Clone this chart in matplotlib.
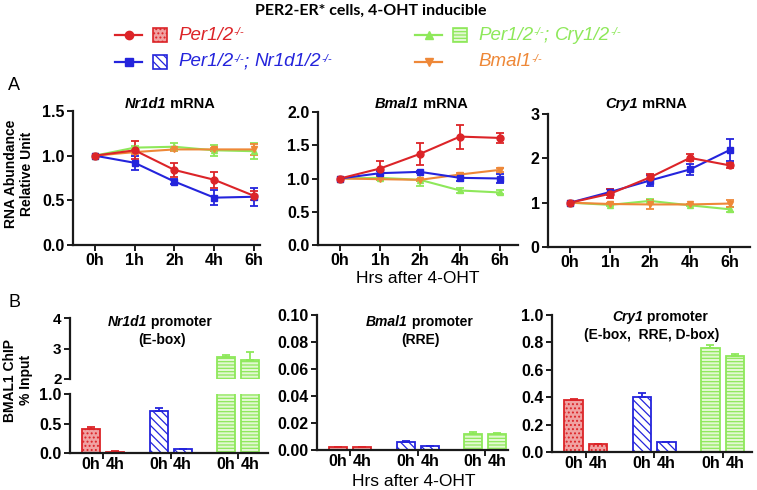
import matplotlib

matplotlib.use("Agg")
import matplotlib.pyplot as plt
import numpy as np
from matplotlib.patches import Rectangle
from matplotlib.ticker import FormatStrFormatter

plt.rcParams["font.family"] = ["Liberation Sans", "DejaVu Sans"]
plt.rcParams["font.weight"] = "bold"
plt.rcParams["hatch.linewidth"] = 0.9

W, H = 757, 490

# ---- data -------------------------------------------------------------
TIMES = ["0h", "1h", "2h", "4h", "6h"]
GENOTYPES = ["per", "per_nr1d1", "per_cry", "bmal1"]

# panel A: RNA abundance (relative unit), mean and SEM
NR1D1_MRNA = {
    "per": [1.0, 1.06, 0.84, 0.73, 0.55],
    "per_nr1d1": [1.0, 0.92, 0.71, 0.53, 0.54],
    "per_cry": [1.0, 1.09, 1.10, 1.06, 1.05],
    "bmal1": [1.0, 1.04, 1.07, 1.07, 1.07],
}
NR1D1_MRNA_ERR = {
    "per": [0, 0.10, 0.08, 0.09, 0.05],
    "per_nr1d1": [0, 0.08, 0.025, 0.085, 0.10],
    "per_cry": [0, 0.02, 0.04, 0.06, 0.09],
    "bmal1": [0, 0.02, 0.02, 0.02, 0.06],
}
BMAL1_MRNA = {
    "per": [1.0, 1.15, 1.37, 1.63, 1.61],
    "per_nr1d1": [1.0, 1.08, 1.10, 1.01, 1.00],
    "per_cry": [1.0, 1.01, 0.98, 0.82, 0.79],
    "bmal1": [1.0, 0.99, 0.98, 1.06, 1.13],
}
BMAL1_MRNA_ERR = {
    "per": [0, 0.12, 0.17, 0.18, 0.08],
    "per_nr1d1": [0, 0.03, 0.02, 0.05, 0.07],
    "per_cry": [0, 0.02, 0.10, 0.04, 0.03],
    "bmal1": [0, 0.02, 0.02, 0.02, 0.03],
}
CRY1_MRNA = {
    "per": [1.0, 1.20, 1.57, 2.01, 1.84],
    "per_nr1d1": [1.0, 1.24, 1.50, 1.75, 2.19],
    "per_cry": [1.0, 0.95, 1.04, 0.94, 0.85],
    "bmal1": [1.0, 0.97, 0.96, 0.96, 0.98],
}
CRY1_MRNA_ERR = {
    "per": [0, 0.10, 0.08, 0.08, 0.06],
    "per_nr1d1": [0, 0.06, 0.13, 0.12, 0.25],
    "per_cry": [0, 0.02, 0.04, 0.02, 0.05],
    "bmal1": [0, 0.02, 0.10, 0.02, 0.08],
}

# panel B: BMAL1 ChIP (% input), bars = genotype x (0h, 4h)
BAR_GENOTYPES = ["per", "per", "per_nr1d1", "per_nr1d1", "per_cry", "per_cry"]
BAR_LABELS = ["0h", "4h", "0h", "4h", "0h", "4h"]
NR1D1_CHIP = [0.41, 0.02, 0.71, 0.07, 2.72, 2.62]
NR1D1_CHIP_ERR = [0.03, 0.01, 0.06, 0.005, 0.08, 0.25]
BMAL1_CHIP = [0.002, 0.002, 0.006, 0.003, 0.012, 0.012]
BMAL1_CHIP_ERR = [0.0003, 0.0003, 0.0004, 0.0002, 0.0012, 0.0008]
CRY1_CHIP = [0.38, 0.055, 0.40, 0.072, 0.76, 0.70]
CRY1_CHIP_ERR = [0.006, 0.004, 0.03, 0.004, 0.02, 0.015]

# ---- styles -----------------------------------------------------------
COLORS = {"per": "#dc2428", "per_nr1d1": "#2424dc", "per_cry": "#8ee85a", "bmal1": "#ee8838"}
MARKERS = {"per": "o", "per_nr1d1": "s", "per_cry": "^", "bmal1": "v"}
FACES = {"per": "#f0a2a2", "per_nr1d1": "white", "per_cry": "#e2f8d2"}
HATCHES = {"per": "....", "per_nr1d1": "\\\\\\\\", "per_cry": "-----"}
DRAW_ORDER = ["per_cry", "bmal1", "per_nr1d1", "per"]
BAR_POS = [0, 1, 2.8, 3.8, 5.6, 6.6]
SPINE = "#1a1a1a"

fig = plt.figure(figsize=(W / 100, H / 100), dpi=100)


def add_px_axes(left, top, right, bottom):
    return fig.add_axes([left / W, 1 - bottom / H, (right - left) / W, (bottom - top) / H])


def style_axes(ax):
    for side in ("top", "right"):
        ax.spines[side].set_visible(False)
    for side in ("left", "bottom"):
        ax.spines[side].set_linewidth(1.6)
        ax.spines[side].set_color(SPINE)
    ax.tick_params(width=1.4, length=4, labelsize=11.5, pad=2, color=SPINE)
    ax.patch.set_visible(False)


def plot_time_course(ax, values, errors, ymax, yticks, fmt, right):
    x = np.arange(len(TIMES))
    for key in DRAW_ORDER:
        err = np.array(errors[key], dtype=float)
        err[err == 0] = np.nan
        ax.errorbar(x, values[key], yerr=err, color=COLORS[key], marker=MARKERS[key],
                    ms=5, lw=1.5, elinewidth=1.3, capsize=3, capthick=1.3, clip_on=False)
    ax.set_xlim(-0.55, right)
    ax.set_ylim(0, ymax)
    ax.set_xticks(x, TIMES)
    ax.set_yticks(yticks)
    ax.yaxis.set_major_formatter(FormatStrFormatter(fmt))
    style_axes(ax)


def plot_chip_bars(ax, values, errors, right):
    bars = ax.bar(BAR_POS, values, width=0.75, linewidth=1.3,
                  color=[FACES[g] for g in BAR_GENOTYPES],
                  edgecolor=[COLORS[g] for g in BAR_GENOTYPES])
    for patch, g in zip(bars, BAR_GENOTYPES):
        patch.set_hatch(HATCHES[g])
    for pos, val, err, g in zip(BAR_POS, values, errors, BAR_GENOTYPES):
        ax.errorbar([pos], [val], yerr=[[0], [err]], fmt="none", ecolor=COLORS[g],
                    elinewidth=1.3, capsize=3, capthick=1.3)
    ax.set_xlim(-0.88, right)
    group_centers = [(BAR_POS[i] + BAR_POS[i + 1]) / 2 for i in range(0, len(BAR_POS), 2)]
    ax.set_xticks(group_centers, [""] * len(group_centers))
    ax.set_xticks(BAR_POS, BAR_LABELS, minor=True)
    style_axes(ax)
    ax.tick_params(axis="x", which="minor", length=0, labelsize=11.5, pad=3)


# ---- panel A ----------------------------------------------------------
ax = add_px_axes(73, 111, 260, 245)
plot_time_course(ax, NR1D1_MRNA, NR1D1_MRNA_ERR, 1.5, [0, 0.5, 1.0, 1.5], "%.1f", 4.15)
ax = add_px_axes(318, 112, 518, 245)
plot_time_course(ax, BMAL1_MRNA, BMAL1_MRNA_ERR, 2.0, [0, 0.5, 1.0, 1.5, 2.0], "%.1f", 4.45)
ax = add_px_axes(548, 114, 750, 247)
plot_time_course(ax, CRY1_MRNA, CRY1_MRNA_ERR, 3.0, [0, 1, 2, 3], "%.0f", 4.5)

# ---- panel B ----------------------------------------------------------
ax_lo = add_px_axes(70, 394, 268, 453)
plot_chip_bars(ax_lo, NR1D1_CHIP, NR1D1_CHIP_ERR, 7.35)
ax_lo.set_ylim(0, 1.0)
ax_lo.set_yticks([0, 0.5, 1.0])
ax_lo.yaxis.set_major_formatter(FormatStrFormatter("%.1f"))

ax_hi = add_px_axes(70, 318, 268, 379)
plot_chip_bars(ax_hi, NR1D1_CHIP, NR1D1_CHIP_ERR, 7.35)
ax_hi.set_ylim(2, 4)
ax_hi.set_yticks([2, 3, 4])
ax_hi.spines["bottom"].set_visible(False)
ax_hi.tick_params(axis="x", which="both", bottom=False, labelbottom=False)
ax_hi.tick_params(axis="y", labelsize=11)

ax = add_px_axes(317, 315, 508, 450)
plot_chip_bars(ax, BMAL1_CHIP, BMAL1_CHIP_ERR, 7.05)
ax.set_ylim(0, 0.10)
ax.set_yticks(np.arange(0, 0.101, 0.02))
ax.yaxis.set_major_formatter(FormatStrFormatter("%.2f"))

ax = add_px_axes(552, 315, 752, 452)
plot_chip_bars(ax, CRY1_CHIP, CRY1_CHIP_ERR, 7.3)
ax.set_ylim(0, 1.0)
ax.set_yticks(np.arange(0, 1.01, 0.2))
ax.yaxis.set_major_formatter(FormatStrFormatter("%.1f"))

# ---- text overlay (pixel coordinates) ---------------------------------
ov = fig.add_axes([0, 0, 1, 1], zorder=10)
ov.set_xlim(0, W)
ov.set_ylim(H, 0)
ov.set_axis_off()

KIND_STYLE = {
    "it": ("italic", "normal"),
    "bf": ("normal", "bold"),
    "bfit": ("italic", "bold"),
    "rm": ("normal", "normal"),
}


def chain_text(x, y, pieces, color, size):
    style, weight = KIND_STYLE[pieces[0][1]]
    base = ov.text(x, y, pieces[0][0], color=color, fontsize=size, style=style,
                   weight=weight, va="center", ha="left")
    prev, last_base = base, base
    for text, kind in pieces[1:]:
        if kind == "sup":
            prev = ov.annotate(text, xy=(1, 1), xycoords=(prev, last_base), xytext=(0.3, -0.5),
                               textcoords="offset points", va="top", ha="left",
                               fontsize=size * 0.6, color=color, style="italic", weight="normal")
        else:
            style, weight = KIND_STYLE[kind]
            prev = ov.annotate(text, xy=(1, 0), xycoords=(prev, last_base), va="bottom",
                               ha="left", fontsize=size, color=color, style=style, weight=weight)
            last_base = prev
    return base


ov.text(371, 11, "PER2-ER* cells, 4-OHT inducible", ha="center", va="center",
        fontsize=11.5, weight="bold", family=["Lato", "DejaVu Sans"])

LEGEND = [
    ("per", 115, 35, [("Per1/2", "it"), ("-/-", "sup")]),
    ("per_nr1d1", 115, 62, [("Per1/2", "it"), ("-/-", "sup"), ("; ", "it"),
                            ("Nr1d1/2", "it"), ("-/-", "sup")]),
    ("per_cry", 415, 35, [("Per1/2", "it"), ("-/-", "sup"), ("; ", "it"),
                          ("Cry1/2", "it"), ("-/-", "sup")]),
    ("bmal1", 415, 62, [("Bmal1", "it"), ("-/-", "sup")]),
]
for key, x0, y0, pieces in LEGEND:
    ov.plot([x0, x0 + 27], [y0, y0], color=COLORS[key], lw=1.6)
    ov.plot([x0 + 13.5], [y0], color=COLORS[key], marker=MARKERS[key], ms=6)
    if key in FACES:
        ov.add_patch(Rectangle((x0 + 38, y0 - 7), 14, 14, facecolor=FACES[key],
                               edgecolor=COLORS[key], hatch=HATCHES[key], lw=1.2))
    chain_text(x0 + 63, y0, pieces, COLORS[key], 13.5)

ov.text(8, 86, "A", fontsize=13, weight="normal", va="center")
ov.text(8, 302, "B", fontsize=13, weight="normal", va="center")

ov.text(19, 174, "RNA Abundance\nRelative Unit", rotation=90, ha="center", va="center",
        fontsize=10, weight="bold", linespacing=1.1)
ov.text(18, 380, "BMAL1 ChIP\n% Input", rotation=90, ha="center", va="center",
        fontsize=10, weight="bold", linespacing=1.1)

chain_text(125, 104, [("Nr1d1", "bfit"), (" mRNA", "bf")], "black", 10.5)
chain_text(375, 104, [("Bmal1", "bfit"), (" mRNA", "bf")], "black", 10.5)
chain_text(605, 104, [("Cry1", "bfit"), (" mRNA", "bf")], "black", 10.5)

chain_text(108, 322, [("Nr1d1", "bfit"), (" promoter", "bf")], "black", 10)
ov.text(162, 340, "(E-box)", ha="center", va="center", fontsize=10, weight="bold")
chain_text(366, 322, [("Bmal1", "bfit"), (" promoter", "bf")], "black", 10)
ov.text(421, 340, "(RRE)", ha="center", va="center", fontsize=10, weight="bold")
chain_text(612, 317, [("Cry1", "bfit"), (" promoter", "bf")], "black", 10)
ov.text(652, 335, "(E-box,  RRE, D-box)", ha="center", va="center", fontsize=10, weight="bold")

ov.text(418, 278, "Hrs after 4-OHT", ha="center", va="center", fontsize=12.5, weight="normal")
ov.text(414, 481, "Hrs after 4-OHT", ha="center", va="center", fontsize=12.5, weight="normal")

fig.savefig("out.png", dpi=100)
